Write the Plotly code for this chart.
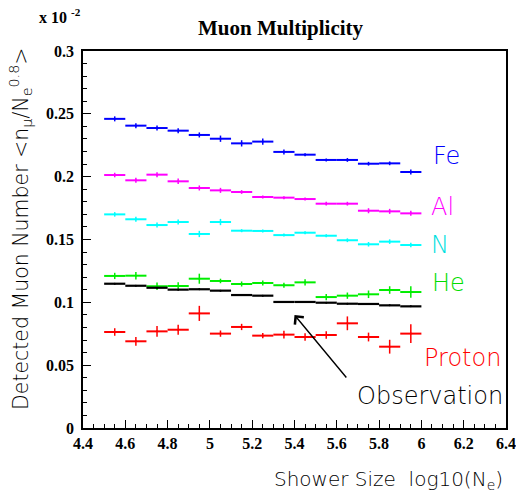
import plotly.graph_objects as go

bins = [4.55, 4.65, 4.75, 4.85, 4.95, 5.05, 5.15, 5.25, 5.35, 5.45, 5.55, 5.65, 5.75, 5.85, 5.95]
half_width = 0.05

fe = [0.2460, 0.2406, 0.2387, 0.2366, 0.2332, 0.2302, 0.2265, 0.2279, 0.2197, 0.2175, 0.2133, 0.2133, 0.2103, 0.2106, 0.2037]
fe_err = [0.002, 0.002, 0.002, 0.002, 0.002, 0.0025, 0.0025, 0.0025, 0.002, 0.0012, 0.0012, 0.0015, 0.0015, 0.0015, 0.002]

al = [0.2013, 0.1971, 0.2016, 0.1963, 0.1910, 0.1891, 0.1878, 0.1838, 0.1833, 0.1822, 0.1785, 0.1785, 0.1729, 0.1724, 0.1708]
al_err = [0.0018, 0.002, 0.002, 0.0022, 0.002, 0.002, 0.0015, 0.0012, 0.0012, 0.0012, 0.0015, 0.0015, 0.002, 0.002, 0.002]

n = [0.1700, 0.1661, 0.1615, 0.1639, 0.1544, 0.1639, 0.1570, 0.1568, 0.1535, 0.1554, 0.1530, 0.1494, 0.1462, 0.1483, 0.1456]
n_err = [0.0018, 0.002, 0.002, 0.002, 0.0025, 0.0025, 0.0012, 0.0012, 0.0012, 0.0012, 0.0012, 0.0015, 0.0018, 0.0018, 0.0018]

he = [0.1210, 0.1212, 0.1128, 0.1130, 0.1188, 0.1170, 0.1146, 0.1154, 0.1136, 0.1159, 0.1042, 0.1053, 0.1064, 0.1098, 0.1082]
he_err = [0.0025, 0.003, 0.003, 0.003, 0.004, 0.0018, 0.002, 0.002, 0.002, 0.0025, 0.0025, 0.0025, 0.003, 0.003, 0.0045]

obs = [0.1148, 0.1132, 0.1116, 0.1101, 0.1104, 0.1093, 0.1058, 0.1053, 0.1003, 0.1003, 0.0997, 0.0989, 0.0987, 0.0976, 0.0968]
obs_err = [0.0005] * 15

proton = [0.0764, 0.0690, 0.0769, 0.0782, 0.0912, 0.0751, 0.0804, 0.0735, 0.0743, 0.0724, 0.0740, 0.0833, 0.0724, 0.0647, 0.0751]
proton_err = [0.003, 0.0035, 0.0042, 0.004, 0.006, 0.0025, 0.0025, 0.002, 0.003, 0.003, 0.003, 0.0055, 0.0035, 0.0055, 0.0075]

series = [
    ("Fe", fe, fe_err, "#0000ff"),
    ("Al", al, al_err, "#ff00ff"),
    ("N", n, n_err, "#00ffff"),
    ("He", he, he_err, "#00ee00"),
    ("Observation", obs, obs_err, "#000000"),
    ("Proton", proton, proton_err, "#ff0000"),
]

x_ticks = [4.4, 4.6, 4.8, 5.0, 5.2, 5.4, 5.6, 5.8, 6.0, 6.2, 6.4]
x_ticktext = ["4.4", "4.6", "4.8", "5", "5.2", "5.4", "5.6", "5.8", "6", "6.2", "6.4"]
y_ticks = [0, 0.05, 0.1, 0.15, 0.2, 0.25, 0.3]
y_ticktext = ["0", "0.05", "0.1", "0.15", "0.2", "0.25", "0.3"]

fig = go.Figure()
for name, vals, errs, col in series:
    fig.add_trace(go.Scatter(
        x=bins, y=vals, mode="markers", name=name,
        marker=dict(size=2, color=col),
        error_x=dict(type="constant", value=half_width, width=0, thickness=2 if name != "Observation" else 2.2, color=col),
        error_y=dict(type="data", array=errs, width=0, thickness=1.5, color=col),
        showlegend=False, hoverinfo="skip",
    ))

serif = "Liberation Serif, Times New Roman, serif"
sans = "DejaVu Sans, sans-serif"
sans_w = 200

labels = [
    ("Fe", 446, 156, "#0000ff"),
    ("Al", 442, 207, "#ff00ff"),
    ("N", 440, 245, "#00e0e0"),
    ("He", 448, 283, "#00dd00"),
    ("Proton", 462, 358, "#ff0000"),
    ("Observation", 430, 396, "#000000"),
]

L, T, W, H = 83, 51, 423, 377

def px_to_paper(px, py):
    return (px - L) / W, (T + H - py) / H

annotations = []
for txt, px, py, col in labels:
    xp, yp = px_to_paper(px, py)
    annotations.append(dict(text=txt, x=xp, y=yp, xref="paper", yref="paper",
                            showarrow=False, xanchor="center", yanchor="middle",
                            font=dict(family=sans, size=24, color=col, weight=sans_w)))

# arrow from Observation label to the observation points
annotations.append(dict(x=5.40, y=0.0899, xref="x", yref="y", ax=5.651, ay=0.039,
                        axref="x", ayref="y", text="", showarrow=True,
                        arrowhead=4, arrowsize=1.6, arrowwidth=1.4, arrowcolor="black"))

# title
xp, yp = px_to_paper(281, 28)
annotations.append(dict(text="<b>Muon Multiplicity</b>", x=xp, y=yp, xref="paper", yref="paper",
                        showarrow=False, xanchor="center", yanchor="middle",
                        font=dict(family=serif, size=21, color="black")))
# exponent label
xp, yp = px_to_paper(37, 16)
annotations.append(dict(text="<b>x 10 <sup>-2</sup></b>", x=xp, y=yp, xref="paper", yref="paper",
                        showarrow=False, xanchor="left", yanchor="middle",
                        font=dict(family=serif, size=16, color="black")))
# x axis title
xp, yp = px_to_paper(505, 480)
annotations.append(dict(text="Shower Size  log10(N<sub>e</sub>)", x=xp, y=yp, xref="paper", yref="paper",
                        showarrow=False, xanchor="right", yanchor="middle",
                        font=dict(family=sans, size=20, color="black", weight=sans_w)))
# y axis title
xp, yp = px_to_paper(20, 229)
annotations.append(dict(text="Detected Muon Number &lt;n<sub>μ</sub>/N<sub>e</sub><sup>0.8</sup>&gt;",
                        x=xp, y=yp, xref="paper", yref="paper", textangle=-90,
                        showarrow=False, xanchor="center", yanchor="middle",
                        font=dict(family=sans, size=20.5, color="black", weight=sans_w)))

axis_common = dict(showline=True, linecolor="black", linewidth=1.5, mirror=True,
                   showgrid=False, zeroline=False, ticks="inside", tickcolor="black",
                   tickwidth=1, automargin=False,
                   tickfont=dict(family=serif, size=16, color="black", weight="bold"))

fig.update_layout(
    width=516, height=496,
    margin=dict(l=L, r=516 - L - W, t=T, b=496 - T - H, autoexpand=False),
    paper_bgcolor="white", plot_bgcolor="white",
    xaxis=dict(range=[4.4, 6.4], tickvals=x_ticks, ticktext=x_ticktext, ticklen=8,
               minor=dict(dtick=0.05, tick0=4.4, ticklen=4, ticks="inside", tickcolor="black"),
               **axis_common),
    yaxis=dict(range=[0, 0.3], tickvals=y_ticks, ticktext=y_ticktext, ticklen=8,
               ticklabelstandoff=4,
               minor=dict(dtick=0.01, tick0=0, ticklen=4, ticks="inside", tickcolor="black"),
               **axis_common),
    annotations=annotations,
)

fig.write_html("out.html", config={"displayModeBar": False},
               post_script="document.body.style.margin='0';document.body.style.overflow='hidden';")
